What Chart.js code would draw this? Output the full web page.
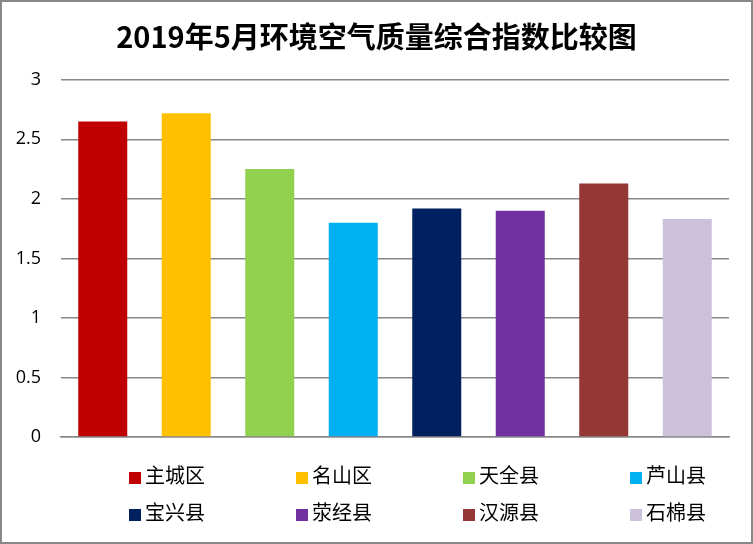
<!DOCTYPE html>
<html>
<head>
<meta charset="utf-8">
<script src="https://cdn.jsdelivr.net/npm/chart.js@4/dist/chart.umd.min.js"></script>
<style>
  html, body { margin: 0; padding: 0; background: #fff; }
  #wrap {
    width: 753px; height: 544px; box-sizing: border-box;
    border: 2px solid #888; position: relative;
  }
  #chart { display: block; }
</style>
</head>
<body>
<div id="wrap"><canvas id="chart" width="749" height="540"></canvas></div>
<script>
const titleText = "2019年5月环境空气质量综合指数比较图";
const counties = ["主城区", "名山区", "天全县", "芦山县", "宝兴县", "荥经县", "汉源县", "石棉县"];
const indexValues = [2.65, 2.72, 2.25, 1.80, 1.92, 1.90, 2.13, 1.83];
const barColors = ["#C00000", "#FFC000", "#92D050", "#00B0F0", "#002060", "#7030A0", "#953735", "#CCC1DA"];
const yTicks = [0, 0.5, 1, 1.5, 2, 2.5, 3];

const cjkFont = "'Noto Sans CJK SC', 'Noto Sans', sans-serif";

// legend drawn in two rows of four, like the original sheet
const gridLegend = {
  id: "gridLegend",
  afterDraw(chart, args, opts) {
    const ctx = chart.ctx;
    const labels = chart.data.labels;
    const colors = chart.data.datasets[0].backgroundColor;
    ctx.save();
    ctx.font = `${opts.fontSize}px ${cjkFont}`;
    ctx.textBaseline = "middle";
    ctx.textAlign = "left";
    labels.forEach((label, i) => {
      const col = i % opts.perRow;
      const row = Math.floor(i / opts.perRow);
      const x = opts.x0 + col * opts.colWidth;
      const y = opts.y0 + row * opts.rowHeight;
      ctx.fillStyle = colors[i];
      ctx.fillRect(x, y - opts.box / 2, opts.box, opts.box);
      ctx.fillStyle = "#000";
      ctx.fillText(label, x + opts.box + 4, y - 3);
    });
    ctx.restore();
  }
};

new Chart(document.getElementById("chart"), {
  type: "bar",
  data: {
    labels: counties,
    datasets: [{
      data: indexValues,
      backgroundColor: barColors,
      borderWidth: 0,
      barPercentage: 0.587,
      categoryPercentage: 1.0
    }]
  },
  options: {
    responsive: false,
    animation: false,
    layout: { padding: { left: 0, right: 0, top: 0, bottom: 97 } },
    plugins: {
      legend: { display: false },
      tooltip: { enabled: false },
      title: {
        display: true,
        text: titleText,
        color: "#000",
        font: { family: cjkFont, size: 29, weight: "bold" },
        padding: { top: 18, bottom: 25 }
      },
      gridLegend: {
        x0: 127, colWidth: 167, perRow: 4,
        y0: 476, rowHeight: 37, box: 12, fontSize: 20
      }
    },
    scales: {
      x: {
        ticks: { display: false },
        grid: { display: false },
        border: { display: true, color: "#888", width: 1.5 }
      },
      y: {
        min: 0,
        max: 3,
        afterBuildTicks: (axis) => { axis.ticks = yTicks.map(v => ({ value: v })); },
        afterFit: (axis) => { axis.width = 59; },
        ticks: {
          color: "#000",
          padding: 20,
          callback: (v) => String(v),
          font: { family: "'Open Sans', 'Liberation Sans', sans-serif", size: 18 }
        },
        grid: { color: "#888", lineWidth: 1.5, drawTicks: false },
        border: { display: false }
      },
      // empty right-hand scale, only keeps the white margin on the right
      yRight: {
        position: "right",
        min: 0,
        max: 3,
        ticks: { display: false },
        grid: { display: false },
        border: { display: false },
        afterFit: (axis) => { axis.width = 22; }
      }
    }
  },
  plugins: [gridLegend]
});
</script>
</body>
</html>
